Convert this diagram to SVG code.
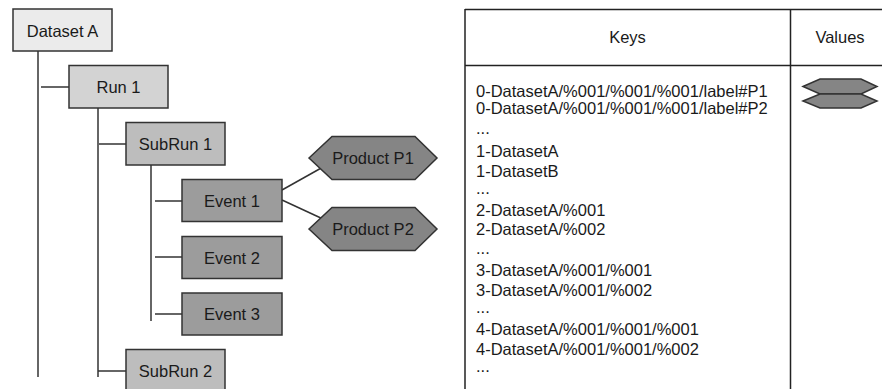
<svg xmlns="http://www.w3.org/2000/svg" width="882" height="389" viewBox="0 0 882 389">
<style>
.box{stroke:#333;stroke-width:1.5}
.l0{fill:#ebebeb}.l1{fill:#d3d3d3}.l2{fill:#bdbdbd}.l3{fill:#9c9c9c}.l4{fill:#858585}
.lbl{font-family:"Liberation Sans",Arial,sans-serif;font-size:16.5px;fill:#1a1a1a;text-anchor:middle}
.key{font-family:"Liberation Sans",Arial,sans-serif;font-size:16.5px;fill:#1a1a1a}
.ln{stroke:#333;stroke-width:1.5;fill:none}
.tb{stroke:#222;stroke-width:1.5;fill:none}
</style>
<rect width="882" height="389" fill="#fff"/>
<g id="connectors">
<line class="ln" x1="38" y1="51" x2="38" y2="377"/>
<line class="ln" x1="41" y1="87" x2="69" y2="87"/>
<line class="ln" x1="98" y1="108" x2="98" y2="377"/>
<line class="ln" x1="99" y1="144" x2="126" y2="144"/>
<line class="ln" x1="98" y1="371" x2="126" y2="371"/>
<line class="ln" x1="151" y1="165" x2="151" y2="321"/>
<line class="ln" x1="155" y1="201" x2="182" y2="201"/>
<line class="ln" x1="155" y1="257" x2="182" y2="257"/>
<line class="ln" x1="155" y1="314" x2="182" y2="314"/>
<line class="ln" x1="282" y1="190" x2="323" y2="167"/>
<line class="ln" x1="282" y1="200" x2="323" y2="219"/>
</g>
<g id="datasetA">
<rect class="box l0" x="13" y="9" width="99" height="42"/>
<text class="lbl" x="62.5" y="37">Dataset A</text>
</g>
<g id="run1">
<rect class="box l1" x="69" y="65.5" width="99" height="42.5"/>
<text class="lbl" x="118.5" y="93">Run 1</text>
</g>
<g id="subrun1">
<rect class="box l2" x="126" y="122.5" width="99" height="42.5"/>
<text class="lbl" x="175.5" y="150">SubRun 1</text>
</g>
<g id="event1">
<rect class="box l3" x="182" y="179.5" width="100" height="42"/>
<text class="lbl" x="232" y="207">Event 1</text>
</g>
<g id="event2">
<rect class="box l3" x="182" y="236.5" width="100" height="42"/>
<text class="lbl" x="232" y="263.5">Event 2</text>
</g>
<g id="event3">
<rect class="box l3" x="182" y="293" width="100" height="42"/>
<text class="lbl" x="232" y="320">Event 3</text>
</g>
<g id="subrun2">
<rect class="box l2" x="126" y="349.5" width="99" height="50"/>
<text class="lbl" x="175.5" y="377">SubRun 2</text>
</g>
<g id="productP1">
<polygon class="box l4" points="309,158 332,136.5 415,136.5 437,158 415,179.5 332,179.5"/>
<text class="lbl" x="373" y="164">Product P1</text>
</g>
<g id="productP2">
<polygon class="box l4" points="309,229 332,207.5 415,207.5 437,229 415,250.5 332,250.5"/>
<text class="lbl" x="373" y="235">Product P2</text>
</g>
<g id="table">
<line class="tb" x1="465" y1="9.5" x2="882" y2="9.5"/>
<line class="tb" x1="465" y1="65.5" x2="882" y2="65.5"/>
<line class="tb" x1="465" y1="9" x2="465" y2="389"/>
<line class="tb" x1="790.5" y1="9" x2="790.5" y2="389"/>
<text class="lbl" x="627.5" y="43">Keys</text>
<text class="lbl" x="840" y="43">Values</text>
<g class="key">
<text x="476" y="97">0-DatasetA/%001/%001/%001/label#P1</text>
<text x="476" y="114">0-DatasetA/%001/%001/%001/label#P2</text>
<text x="476" y="134">...</text>
<text x="476" y="157">1-DatasetA</text>
<text x="476" y="177">1-DatasetB</text>
<text x="476" y="194">...</text>
<text x="476" y="216">2-DatasetA/%001</text>
<text x="476" y="235">2-DatasetA/%002</text>
<text x="476" y="254">...</text>
<text x="476" y="276">3-DatasetA/%001/%001</text>
<text x="476" y="296">3-DatasetA/%001/%002</text>
<text x="476" y="313">...</text>
<text x="476" y="335">4-DatasetA/%001/%001/%001</text>
<text x="476" y="355">4-DatasetA/%001/%001/%002</text>
<text x="476" y="372">...</text>
</g>
<g id="values">
<polygon class="box l4" points="803,86.5 820,79 861,79 877,86.5 861,94 820,94"/>
<polygon class="box l4" points="803,101 820,94 861,94 877,101 861,108 820,108"/>
</g>
</g>
</svg>
